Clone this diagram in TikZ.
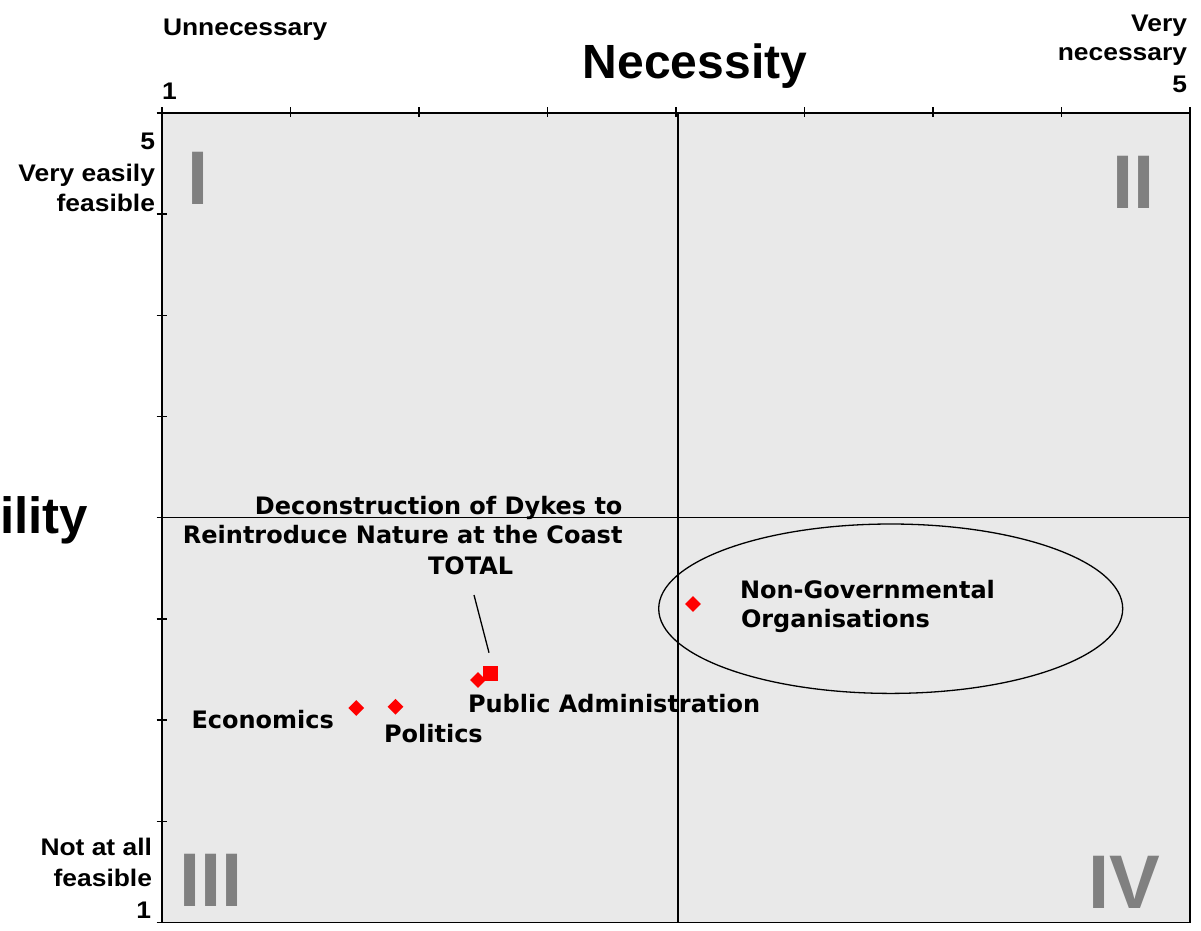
\documentclass[tikz,border=0pt]{standalone}
\usepackage{fontspec}
\setmainfont{Liberation Sans}
\newfontfamily\axfont{Liberation Sans}[FakeStretch=1.1]
\newfontfamily\lblfont{DejaVu Sans}
\usetikzlibrary{shapes.geometric}
\definecolor{plotbg}{RGB}{233,233,233}
\definecolor{numgray}{RGB}{128,128,128}
\definecolor{ptred}{RGB}{255,0,0}
\begin{document}
\begin{tikzpicture}[x=1pt,y=-1pt,
  axlbl/.style={font=\axfont\bfseries\fontsize{24}{28}\selectfont, inner sep=0pt, outer sep=0pt},
  bigtitle/.style={font=\bfseries\fontsize{48}{56}\selectfont, inner sep=0pt, outer sep=0pt},
  quadnum/.style={font=\bfseries\fontsize{76}{80}\selectfont, text=numgray, inner sep=0pt, outer sep=0pt, anchor=base},
  ptlbl/.style={font=\lblfont\bfseries\fontsize{24}{28}\selectfont, inner sep=0pt, outer sep=0pt},
  axisline/.style={line width=1.8pt, black},
  midline/.style={line width=1.4pt, black},
  tickline/.style={line width=1.4pt, black},
  dpoint/.style={diamond, fill=ptred, minimum width=16pt, minimum height=16pt, inner sep=0pt},
  spoint/.style={rectangle, fill=ptred, minimum width=15pt, minimum height=15pt, inner sep=0pt}
]
\useasboundingbox (0,0) rectangle (1201,930);
\clip (0,0) rectangle (1201,930);

% plot area
\fill[plotbg] (162,113) rectangle (1190,922.5);

% quadrant numerals
\node[quadnum] (qI) at (198,204) {I};
\node[quadnum] (qII) at (1133.5,208) {II};
\node[quadnum] (qIII) at (211,906) {III};
\node[quadnum] (qIV) at (1124,908) {IV};

% middle lines
\draw[midline] (678,113) -- (678,922.5);
\draw[midline] (162,517.7) -- (1190,517.7);

% frame
\draw[midline] (1190,113) -- (1190,922.5);
\draw[axisline] (162,113) -- (1190,113);
\draw[axisline] (162,922.5) -- (1190,922.5);
\draw[axisline] (162,113) -- (162,922.5);

% ticks
\foreach \i in {0,...,8} {
  \draw[tickline] ({162+\i*128.5},107) -- ({162+\i*128.5},117);
  \draw[tickline] (156.5,{113+\i*101.19}) -- (166.5,{113+\i*101.19});
}

% axis titles
\node[bigtitle, anchor=base] (necessity) at (695,78) {Necessity};
\node[bigtitle, font=\bfseries\fontsize{51}{56}\selectfont, anchor=base west] (feasibility) at (0,533) {ility};

% axis end labels
\node[axlbl, anchor=base west] (unnec) at (163,35) {Unnecessary};
\node[axlbl, anchor=base west] (xone) at (162,99) {1};
\node[axlbl, anchor=base east] (very) at (1187,31) {Very};
\node[axlbl, anchor=base east] (necessary) at (1187,60) {necessary};
\node[axlbl, anchor=base east] (xfive) at (1187,92) {5};
\node[axlbl, anchor=base east] (yfive) at (155,149) {5};
\node[axlbl, anchor=base east] (veasily) at (155,181.5) {Very easily};
\node[axlbl, anchor=base east] (feasA) at (155,211) {feasible};
\node[axlbl, anchor=base east] (notatall) at (152,855) {Not at all};
\node[axlbl, anchor=base east] (feasB) at (152,886) {feasible};
\node[axlbl, anchor=base east] (yone) at (151,918) {1};

% ellipse around NGO
\node[ellipse, draw, line width=1.3pt, minimum width=464pt, minimum height=169.4pt, inner sep=0pt] (ngoell) at (890.7,608.7) {};

% data points
\node[dpoint] (econ) at (356.3,708) {};
\node[dpoint] (pol) at (395.5,706.7) {};
\node[dpoint] (pubadm) at (478,680) {};
\node[spoint] (total) at (490,673) {};
\node[dpoint] (ngo) at (693,604) {};

% leader line
\coordinate (ldtop) at (474,595);
\coordinate (ldbot) at (489,652.7);
\draw[line width=1.3pt] (ldtop) -- (ldbot);

% point labels
\node[ptlbl, anchor=base east] (tA) at (622.5,514.5) {Deconstruction of Dykes to};
\node[ptlbl, anchor=base east] (tB) at (622.5,543) {Reintroduce Nature at the Coast};
\node[ptlbl, anchor=base west] (tC) at (428,574) {TOTAL};
\node[ptlbl, anchor=base west] (lpubadm) at (468,712) {Public Administration};
\node[ptlbl, anchor=base west] (lpol) at (384,742) {Politics};
\node[ptlbl, anchor=base west] (lecon) at (191.5,728.5) {Economics};
\node[ptlbl, anchor=base west] (lngoA) at (740,598.5) {Non-Governmental};
\node[ptlbl, anchor=base west] (lngoB) at (741,627) {Organisations};
\end{tikzpicture}
\end{document}
